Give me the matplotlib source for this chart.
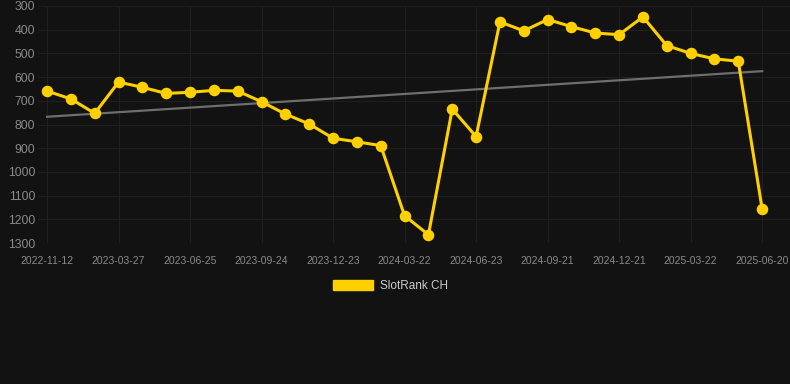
import matplotlib
matplotlib.use("Agg")
import matplotlib.pyplot as plt
from matplotlib.patches import Patch
import numpy as np

# rank values (lower rank number = better, axis inverted)
ranks = [659, 692, 753, 621, 643, 669, 664, 656, 659, 704,
         756, 798, 858, 873, 889, 1185, 1265, 735, 851, 367,
         405, 357, 387, 414, 421, 346, 467, 500, 523, 533, 1155]
tick_labels = ["2022-11-12", "2023-03-27", "2023-06-25", "2023-09-24",
               "2023-12-23", "2024-03-22", "2024-06-23", "2024-09-21",
               "2024-12-21", "2025-03-22", "2025-06-20"]
y_ticks = [300, 400, 500, 600, 700, 800, 900, 1000, 1100, 1200, 1300]
series_name = "SlotRank CH"

BG = "#121212"
GRID = "#1f1f1f"
TEXT = "#8a8a8a"
YELLOW = "#FFD000"

plt.rcParams["font.family"] = ["Liberation Sans", "DejaVu Sans"]

fig = plt.figure(figsize=(7.9, 3.84), dpi=100)
fig.patch.set_facecolor(BG)
ax = fig.add_axes([38 / 790, 1 - 243 / 384, 752 / 790, 237 / 384])
ax.set_facecolor(BG)

x = np.arange(len(ranks))

# linear trend
k, b = np.polyfit(x, ranks, 1)
ax.plot(x, k * x + b, color="#6e6e6e", lw=1.6, zorder=2)

ax.plot(x, ranks, color=YELLOW, lw=2.2, marker="o", markersize=7.3,
        markerfacecolor=YELLOW, markeredgecolor=YELLOW, zorder=3)

ax.set_ylim(1300, 300)
ax.set_xlim(-0.38, len(ranks) - 1 + 1.17)
ax.set_yticks(y_ticks)
ax.set_xticks(x[::3])
ax.set_xticklabels(tick_labels)

ax.grid(True, color=GRID, lw=0.8)
ax.set_axisbelow(True)
for s in ax.spines.values():
    s.set_visible(False)
ax.tick_params(axis="y", length=0, pad=2, labelsize=8.8, labelcolor=TEXT)
ax.tick_params(axis="x", length=0, pad=9, labelsize=7.5, labelcolor=TEXT)

handle = Patch(facecolor=YELLOW, edgecolor=YELLOW)
fig.legend([handle], [series_name], loc="center", bbox_to_anchor=(0.494, 0.255),
           frameon=False, fontsize=8.5, labelcolor="#cccccc",
           handlelength=3.4, handleheight=0.9, handletextpad=0.6)

fig.savefig("out.png", dpi=100, facecolor=BG)
